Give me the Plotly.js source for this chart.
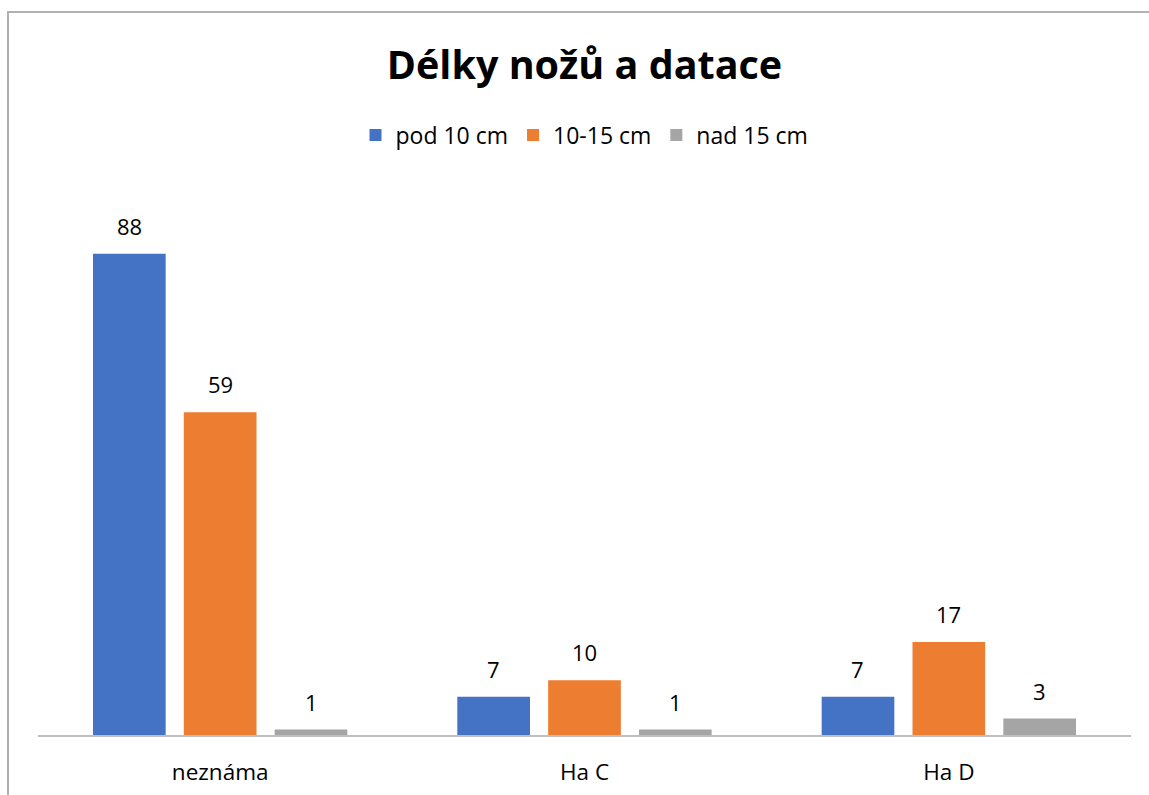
<!DOCTYPE html>
<html>
<head>
<meta charset="utf-8">
<script src="https://cdn.plot.ly/plotly-3.0.1.min.js"></script>
<style>
  html, body { margin: 0; padding: 0; background: #fff; }
  #wrap { position: relative; width: 1149px; height: 795px; overflow: hidden; }
  #frame { position: absolute; left: 7px; top: 11px; width: 1200px; height: 900px;
           border-top: 2px solid #b0b0b0; border-left: 2px solid #b0b0b0; pointer-events: none; }
  #chart { position: absolute; left: 0; top: 0; width: 1149px; height: 795px; }
</style>
</head>
<body>
<div id="wrap">
  <div id="chart"></div>
  <div id="frame"></div>
</div>
<script>
const categories = ["neznáma", "Ha C", "Ha D"];
const seriesNames = ["pod 10 cm", "10-15 cm", "nad 15 cm"];
const pod10 = [88, 7, 7];
const mid1015 = [59, 10, 17];
const nad15 = [1, 1, 3];
const colors = ["#4472C4", "#ED7D31", "#A5A5A5"];

const FONT = "Open Sans, Noto Sans, sans-serif";
const seriesVals = [pod10, mid1015, nad15];

const traces = seriesVals.map((vals, i) => ({
  type: "bar",
  name: seriesNames[i],
  x: categories,
  y: vals,
  marker: { color: colors[i] },
  hoverinfo: "x+y+name"
}));

// data labels above bars (offset per series within the group)
const slotPx = 91;
const annotations = [];
seriesVals.forEach((vals, i) => {
  vals.forEach((v, j) => {
    annotations.push({
      x: categories[j], y: v, xref: "x", yref: "y",
      text: String(v), showarrow: false,
      xshift: (i - 1) * slotPx, yshift: 28, yanchor: "middle",
      font: { family: FONT, size: 22, color: "#000" }
    });
  });
});

const layout = {
  width: 1149, height: 795,
  paper_bgcolor: "rgba(0,0,0,0)", plot_bgcolor: "rgba(0,0,0,0)",
  margin: { l: 38, r: 18, t: 188, b: 60 },
  font: { family: FONT, color: "#000" },
  title: {
    text: "<b>Délky nožů a datace</b>",
    font: { family: FONT, size: 39.5, color: "#000" },
    xref: "paper", x: 0.5, xanchor: "center",
    yref: "container", y: 1 - 65 / 795, yanchor: "middle"
  },
  barmode: "group",
  bargap: 0.252,
  bargroupgap: 0.2,
  showlegend: true,
  legend: {
    orientation: "h", x: 0.5, xanchor: "center", y: 1.097, yanchor: "middle",
    font: { family: FONT, size: 23, color: "#000" },
    itemwidth: 30, traceorder: "normal"
  },
  xaxis: {
    type: "category",
    showline: true, linecolor: "#bfbfbf", linewidth: 1.5,
    ticks: "", showgrid: false, zeroline: false,
    tickfont: { family: FONT, size: 22.5, color: "#000" },
    ticklabelstandoff: 16
  },
  yaxis: {
    range: [0, 100], visible: false, showgrid: false, zeroline: false
  },
  annotations: annotations
};

Plotly.newPlot("chart", traces, layout, { displayModeBar: false, staticPlot: false });
</script>
</body>
</html>
